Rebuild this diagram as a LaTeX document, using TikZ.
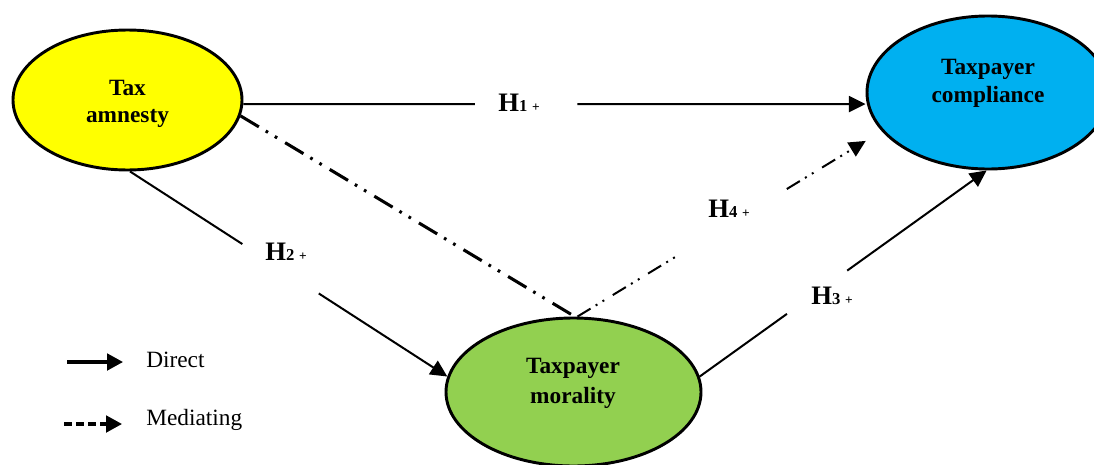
\documentclass[tikz,border=0pt]{standalone}
\usepackage{fontspec}
\setmainfont{Liberation Serif}
\usetikzlibrary{shapes.geometric,arrows.meta,calc}
\definecolor{cyellow}{HTML}{FFFF00}
\definecolor{cblue}{HTML}{00B0F0}
\definecolor{cgreen}{HTML}{92D050}
\newcommand{\hlab}[1]{{\fontsize{20}{24}\selectfont\bfseries H}{\fontsize{12.5}{15}\selectfont\bfseries #1}\hspace{3.5pt}{\fontsize{10}{12}\selectfont\bfseries +}}
\begin{document}
\begin{tikzpicture}[x=0.75pt,y=-0.75pt,
  construct/.style={ellipse,draw=black,line width=2.2pt,inner sep=0pt},
  ctext/.style={anchor=base,font=\fontsize{17.5}{21}\selectfont\bfseries,inner sep=0pt},
  hyp/.style={anchor=base,inner sep=0pt},
  direct/.style={line width=1.5pt},
  tip/.style={-{Triangle[length=12.5pt,width=12pt]}},
  medthick/.style={line width=2.3pt,dash pattern=on 16pt off 6pt on 2pt off 6pt on 2pt off 7pt},
  medthin/.style={line width=1.5pt,dash pattern=on 11.5pt off 4.5pt on 1.5pt off 4.5pt on 1.5pt off 7.5pt},
  legtext/.style={anchor=base west,inner sep=0pt,font=\fontsize{17.5}{21}\selectfont}]
\useasboundingbox (0,0) rectangle (1094,464);
% constructs
\node[construct,fill=cyellow,minimum width=171.75pt,minimum height=105pt] (ta) at (127.5,100) {};
\node[construct,fill=cblue,minimum width=181.5pt,minimum height=114.75pt] (tc) at (988,92.5) {};
\node[construct,fill=cgreen,minimum width=191.25pt,minimum height=111pt] (tm) at (573.5,392) {};
\node[ctext] (ta1) at (127.5,95) {Tax};
\node[ctext] (ta2) at (127.5,122) {amnesty};
\node[ctext] (tc1) at (988,74) {Taxpayer};
\node[ctext] (tc2) at (988,102) {compliance};
\node[ctext] (tm1) at (573,373) {Taxpayer};
\node[ctext] (tm2) at (573,403) {morality};
% H1
\coordinate (h1e) at (ta.-2 -| tc.west);
\draw[direct] (ta.-2) -- ($(ta.-2)!0.372!(h1e)$);
\draw[direct,tip] ($(ta.-2)!0.537!(h1e)$) -- (h1e);
\node[hyp] (h1) at (519,111) {\hlab{1}};
% H2
\draw[direct] (ta.-88) -- ($(ta.-88)!0.354!(tm.173)$);
\draw[direct,tip] ($(ta.-88)!0.595!(tm.173)$) -- (tm.173);
\node[hyp] (h2) at (286,260) {\hlab{2}};
% H3
\draw[direct] (tm.7) -- ($(tm.7)!0.304!(tc.-91)$);
\draw[direct,tip] ($(tm.7)!0.514!(tc.-91)$) -- (tc.-91);
\node[hyp] (h3) at (832,304) {\hlab{3}};
% mediating
\draw[medthick] (ta.-8) -- (tm.89);
\draw[medthin] (tm.87) -- ($(tm.87)!0.336!(tc.200)$);
\draw[medthin,tip,shorten >=14pt] ($(tm.87)!0.688!(tc.200)$) -- (tc.200);
\node[hyp] (h4) at (729,217) {\hlab{4}};
% legend
\coordinate (l1a) at (67,362);
\coordinate (l1b) at (123,362);
\draw[line width=2.3pt,-{Triangle[length=12pt,width=12.5pt]}] (l1a) -- (l1b);
\node[legtext] (ld) at (146,367) {Direct};
\coordinate (l2a) at (64,424);
\coordinate (l2b) at (122,424);
\draw[line width=2.3pt,dash pattern=on 6pt off 3pt,-{Triangle[length=12pt,width=12.5pt]}] (l2a) -- (l2b);
\node[legtext] (lm) at (146,425) {Mediating};
\end{tikzpicture}
\end{document}
